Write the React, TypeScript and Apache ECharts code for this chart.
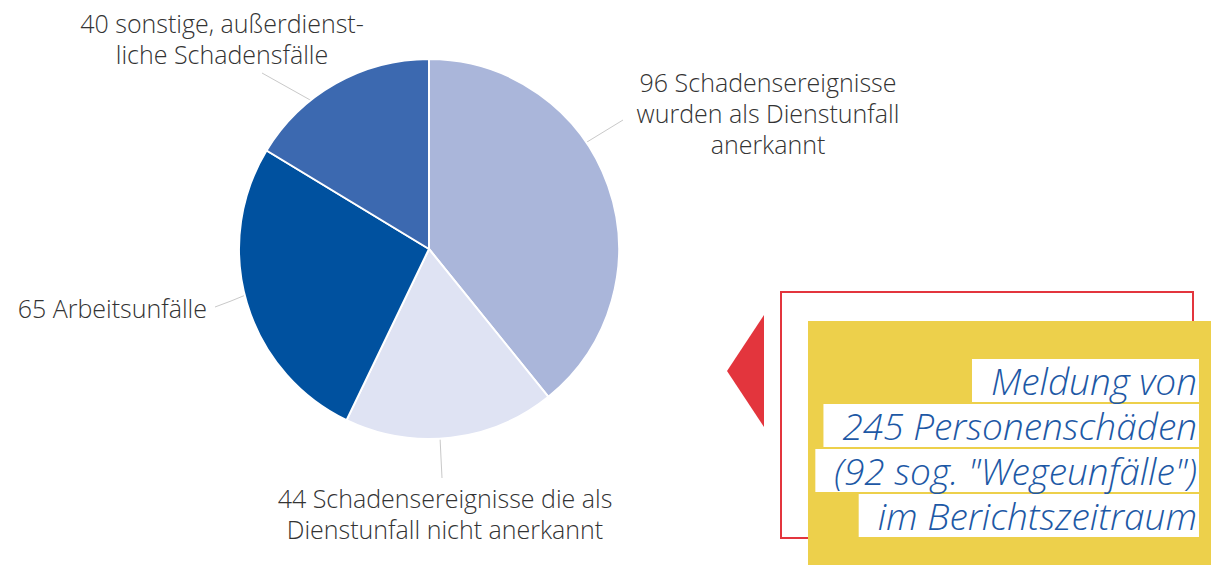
import React, { useEffect, useRef } from "react";
import * as echarts from "echarts";

const categories = [
  "Schadensereignisse\nwurden als Dienstunfall\nanerkannt",
  "Schadensereignisse die als\nDienstunfall nicht anerkannt",
  "Arbeitsunfälle",
  "sonstige, außerdienst-\nliche Schadensfälle",
];
const values = [96, 44, 65, 40];
const sliceColors = ["#aab6da", "#dfe3f3", "#00519f", "#3c69b0"];
const boxLines = ["Meldung von", "245 Personenschäden", '(92 sog. "Wegeunfälle")', "im Berichtszeitraum"];

const labelPlaces = [
  { x: 768, y: 113, align: "center", pts: [[587, 142], [605, 131], [623, 120]] },
  { x: 445, y: 513, align: "center", pts: [[440, 437], [441, 458], [442, 478]] },
  { x: 207, y: 308, align: "right", pts: [[248, 294], [231, 301], [215, 307]] },
  { x: 222, y: 38, align: "center", pts: [[312, 101], [287, 87], [262, 73]] },
];

export default function App() {
  const ref = useRef<HTMLDivElement>(null);
  useEffect(() => {
    document.body.style.margin = "0";
    const chart = echarts.init(ref.current!, undefined, { renderer: "svg" });
    const fontFamily = "Open Sans";
    const textGraphics = boxLines.map((t, i) => ({
      type: "text",
      z: 10,
      style: {
        text: t,
        x: 1199,
        y: 380.5 + i * 45,
        align: "right",
        verticalAlign: "middle",
        font: `italic 300 37px '${fontFamily}'`,
        fill: "#1d58a5",
        backgroundColor: "#ffffff",
        padding: [2, 2, 2, 19],
        lineHeight: 39,
      },
    }));
    chart.setOption({
      animation: false,
      backgroundColor: "#ffffff",
      graphic: [
        {
          type: "rect",
          z: 1,
          shape: { x: 781, y: 292, width: 412, height: 246 },
          style: { fill: "none", stroke: "#e3353d", lineWidth: 2 },
        },
        {
          type: "polygon",
          z: 1,
          shape: { points: [[764, 315], [727, 371], [764, 427]] },
          style: { fill: "#e3353d" },
        },
        {
          type: "rect",
          z: 2,
          shape: { x: 808, y: 321, width: 403, height: 244 },
          style: { fill: "#edd04b" },
        },
        ...textGraphics,
      ],
      series: [
        {
          type: "pie",
          silent: true,
          center: [429, 249],
          radius: 190,
          startAngle: 90,
          clockwise: true,
          itemStyle: { borderColor: "#ffffff", borderWidth: 2 },
          label: {
            show: true,
            fontFamily,
            fontWeight: 300,
            fontSize: 25,
            lineHeight: 31,
            overflow: "none",
            color: "#333333",
            formatter: (p: any) => `${p.value} ${p.name}`,
          },
          labelLine: { show: true, lineStyle: { color: "#c9c9c9", width: 1 } },
          labelLayout: (params: any) => {
            const lp = labelPlaces[params.dataIndex];
            return {
              x: lp.x,
              y: lp.y,
              align: lp.align,
              verticalAlign: "middle",
              labelLinePoints: lp.pts,
            };
          },
          data: values.map((v, i) => ({
            value: v,
            name: categories[i],
            itemStyle: { color: sliceColors[i] },
            label: { align: labelPlaces[i].align },
          })),
        },
      ],
    });
    return () => chart.dispose();
  }, []);
  return <div ref={ref} style={{ position: "absolute", left: 0, top: 0, width: 1211, height: 565 }} />;
}
